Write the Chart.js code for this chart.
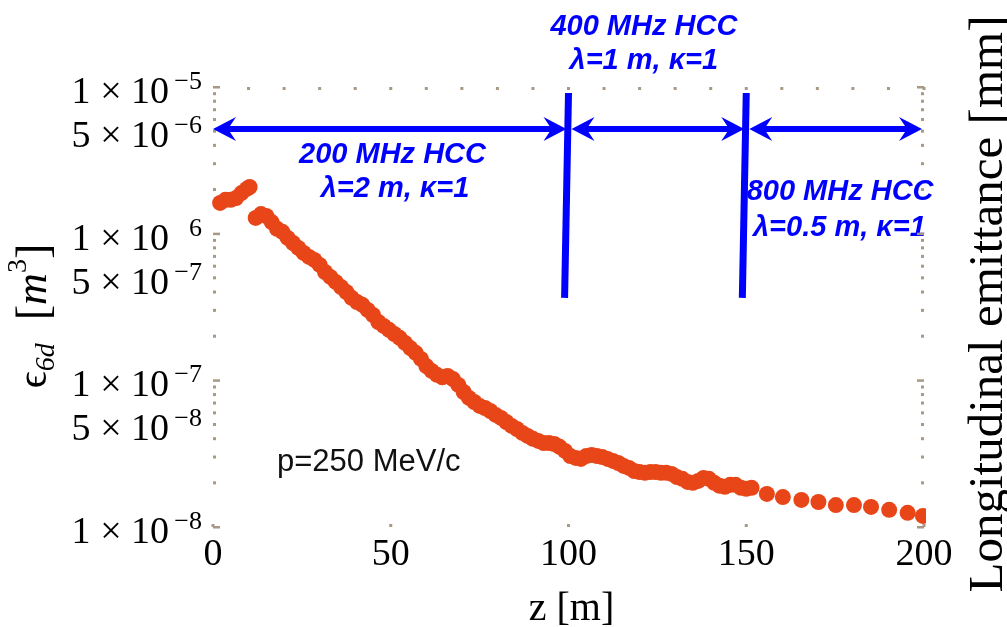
<!DOCTYPE html>
<html><head><meta charset="utf-8">
<script src="https://cdn.jsdelivr.net/npm/chart.js@4.4.0/dist/chart.umd.min.js"></script>
<style>html,body{margin:0;padding:0;background:#fff;overflow:hidden}#wrap{position:relative;width:1007px;height:627px}</style>
</head><body><div id="wrap"><canvas id="c" width="1007" height="627"></canvas></div>
<script>
// ---- data ----
const zPos = [2,3.5,5,6.5,8,9.5,10.3,
 12,13.5,15,16.5,18,19.5,21,22.5,24,25.5,27,28.5,30,31.5,33,34.5,36,37.5,39,40.5,42,43.5,45,46.5,48,49.5,
 51,52.5,54,55.5,57,58.5,60,61.5,63,64.5,66,67.5,69,70.5,72,73.5,75,76.5,78,79.5,81,82.5,84,85.5,87,88.5,90,91.5,93,94.5,96,97.5,99,
 100.5,102,103.5,105,106.5,108,109.5,111,112.5,114,115.5,117,118.5,120,121.5,123,124.5,126,127.5,129,130.5,132,133.5,135,136.5,138,139.5,141,142.5,144,145.5,147,148.5,150,151.5,
 155.8,160.3,165.5,170.3,175.2,180.3,185.1,190.2,195.4,199.7];
const eps6d = [1.62e-6,1.70e-6,1.70e-6,1.75e-6,1.89e-6,2.02e-6,2.08e-6,
 1.28e-6,1.36e-6,1.32e-6,1.20e-6,1.08e-6,1.03e-6,9.35e-7,8.64e-7,7.99e-7,7.39e-7,6.94e-7,6.62e-7,6.12e-7,5.48e-7,5.07e-7,4.69e-7,4.33e-7,4.00e-7,3.65e-7,3.42e-7,3.27e-7,3.02e-7,2.79e-7,2.50e-7,2.35e-7,2.21e-7,
 2.07e-7,1.95e-7,1.80e-7,1.66e-7,1.54e-7,1.40e-7,1.25e-7,1.16e-7,1.09e-7,1.05e-7,1.07e-7,1.02e-7,9.30e-8,8.33e-8,7.59e-8,7.12e-8,6.69e-8,6.48e-8,6.18e-8,5.81e-8,5.54e-8,5.20e-8,4.89e-8,4.66e-8,4.38e-8,4.18e-8,3.99e-8,3.86e-8,3.74e-8,3.74e-8,3.68e-8,3.52e-8,3.30e-8,
 3.05e-8,2.96e-8,2.91e-8,3.05e-8,3.10e-8,3.05e-8,3.00e-8,2.91e-8,2.82e-8,2.73e-8,2.61e-8,2.53e-8,2.41e-8,2.37e-8,2.34e-8,2.37e-8,2.37e-8,2.34e-8,2.34e-8,2.30e-8,2.19e-8,2.13e-8,2.03e-8,2.00e-8,2.06e-8,2.16e-8,2.13e-8,2.00e-8,1.91e-8,1.88e-8,1.94e-8,1.94e-8,1.85e-8,1.82e-8,1.85e-8,
 1.68e-8,1.60e-8,1.53e-8,1.48e-8,1.41e-8,1.41e-8,1.37e-8,1.31e-8,1.25e-8,1.19e-8];
const xTicks = [0,50,100,150,200];
const xTickLabels = ['0','50','100','150','200'];
const yTicks = [1e-5,5e-6,1e-6,5e-7,1e-7,5e-8,1e-8];
const yTickMant = ['1','5','1','5','1','5','1'];
const yTickExp = ['\u22125','\u22126','6','\u22127','\u22127','\u22128','\u22128'];
// section annotations (data coordinates)
const sectionBounds = [0,100,150,200];
const arrowLevel = 5.17e-6;
const dividerZ = [100,150];
const dividerTop = 9.1e-6, dividerBottom = 3.65e-7, dividerLean = 1.1;
const sectionTitles = [['200 MHz HCC','\u03bb=2 m, \u03ba=1'],['400 MHz HCC','\u03bb=1 m, \u03ba=1'],['800 MHz HCC','\u03bb=0.5 m, \u03ba=1']];
const sectionTitleZ = [[50.5,51.2],[121.2,121.2],[176.4,176.2]];
const sectionTitleY = [[3.03e-6,1.78e-6],[2.26e-5,1.33e-5],[1.70e-6,9.65e-7]];
const momentumNote = 'p=250 MeV/c', noteZ = 18, noteY = 2.41e-8;

const BLUE = '#0000ff', TICK = 'rgb(168,152,132)';
const SERIF = '"Liberation Serif","DejaVu Serif",serif';
const SANS = '"Liberation Sans",Arial,sans-serif';

const deco = {
  id:'deco',
  beforeDatasetsDraw(chart){
    const {ctx, scales:{x:xs,y:ys}} = chart;
    ctx.save();
    ctx.fillStyle = BLUE; ctx.font = 'italic bold 29px ' + SANS; ctx.textAlign='center'; ctx.textBaseline='alphabetic';
    sectionTitles.forEach((t,i)=>{
      ctx.fillText(t[0], xs.getPixelForValue(sectionTitleZ[i][0]), ys.getPixelForValue(sectionTitleY[i][0]));
      ctx.fillText(t[1], xs.getPixelForValue(sectionTitleZ[i][1]), ys.getPixelForValue(sectionTitleY[i][1]));
    });
    ctx.fillStyle='#111'; ctx.font='31px '+SANS; ctx.textAlign='left';
    ctx.fillText(momentumNote, xs.getPixelForValue(noteZ), ys.getPixelForValue(noteY));
    ctx.restore();
  },
  afterDatasetsDraw(chart){
    const {ctx, chartArea:ca, scales:{x:xs,y:ys}} = chart;
    ctx.save();
    // ticks
    ctx.fillStyle = TICK;
    for (let k=-8;k<=-5;k++){
      for (let m=1;m<10;m++){
        if (k===-5 && m>1) break;
        const py = ys.getPixelForValue(m*Math.pow(10,k));
        if (m===1){ ctx.fillRect(ca.left, py-1, 7, 2.5); ctx.fillRect(ca.right-7, py-1, 7, 2.5); }
        else { ctx.fillRect(ca.left, py-1.5, 3, 3); ctx.fillRect(ca.right-3, py-1.5, 3, 3); }
      }
    }
    for (let z=10; z<=200; z+=10){
      const px = xs.getPixelForValue(z);
      ctx.fillRect(px-1.5, ca.top, 3, 3);
    }
    xTicks.forEach(z=>{ const px=xs.getPixelForValue(z); ctx.fillRect(px-1.5, ca.bottom-3, 3, 3); });
    // tick labels
    ctx.fillStyle='#000'; ctx.textBaseline='alphabetic';
    ctx.font='38px '+SERIF; ctx.textAlign='center';
    xTicks.forEach((z,i)=>ctx.fillText(xTickLabels[i], xs.getPixelForValue(z), ca.bottom+38));
    const R = ca.left - 11;
    yTicks.forEach((v,i)=>{
      const py = ys.getPixelForValue(v);
      ctx.font='38px '+SERIF; ctx.textAlign='center';
      ctx.fillText(yTickMant[i], R-121, py+16);
      ctx.fillText('\u00d7', R-91, py+16);
      ctx.fillText('10', R-52, py+16);
      ctx.font='26px '+SERIF; ctx.textAlign='right';
      ctx.fillText(yTickExp[i], R, py+2);
    });
    // axis titles
    ctx.textAlign='center';
    ctx.font='40px '+SERIF;
    ctx.fillText('z [m]', (ca.left+ca.right)/2 + 3, 620);
    ctx.save(); ctx.translate(1002, 304); ctx.rotate(-Math.PI/2);
    ctx.font='49px '+SERIF; ctx.textAlign='center'; ctx.fillText('Longitudinal emittance [mm]', 0, 0);
    ctx.restore();
    ctx.save(); ctx.translate(46, 316); ctx.rotate(-Math.PI/2);
    const parts = [
      {t:'\u03f5', f:'42px '+SERIF, dy:0},
      {t:'6d', f:'italic 28px '+SERIF, dy:8},
      {t:'  [', f:'46px '+SERIF, dy:2},
      {t:'m', f:'italic 44px '+SERIF, dy:0},
      {t:'3', f:'28px '+SERIF, dy:-20},
      {t:']', f:'46px '+SERIF, dy:2}];
    let tot=0; parts.forEach(p=>{ctx.font=p.f; p.w=ctx.measureText(p.t).width; tot+=p.w;});
    let cx=-tot/2; ctx.textAlign='left';
    parts.forEach(p=>{ctx.font=p.f; ctx.fillText(p.t, cx, p.dy); cx+=p.w;});
    ctx.restore();
    // divider lines
    ctx.strokeStyle=BLUE; ctx.fillStyle=BLUE; ctx.lineWidth=7; ctx.lineCap='butt';
    dividerZ.forEach(z=>{
      ctx.beginPath();
      ctx.moveTo(xs.getPixelForValue(z), ys.getPixelForValue(dividerTop));
      ctx.lineTo(xs.getPixelForValue(z-dividerLean), ys.getPixelForValue(dividerBottom));
      ctx.stroke();
    });
    // double arrows
    const ay = ys.getPixelForValue(arrowLevel);
    const head=(tx,dir)=>{
      const L=23,W=12,N=15;
      ctx.beginPath();
      ctx.moveTo(tx,ay);
      ctx.lineTo(tx-dir*L, ay-W);
      ctx.lineTo(tx-dir*N, ay);
      ctx.lineTo(tx-dir*L, ay+W);
      ctx.closePath(); ctx.fill();
    };
    for (let i=0;i<sectionBounds.length-1;i++){
      const x0 = xs.getPixelForValue(sectionBounds[i]) + (i===0?0:3);
      const x1 = xs.getPixelForValue(sectionBounds[i+1]) - 2;
      ctx.lineWidth=6;
      ctx.beginPath(); ctx.moveTo(x0+14, ay); ctx.lineTo(x1-14, ay); ctx.stroke();
      head(x0,-1); head(x1,1);
    }
    ctx.restore();
  }
};

new Chart(document.getElementById('c'), {
  type:'scatter',
  data:{datasets:[{
    data: zPos.map((z,i)=>({x:z, y:eps6d[i]})),
    pointRadius:8, pointHoverRadius:8, pointBorderWidth:0,
    pointBackgroundColor:'#e84618', borderColor:'#e84618',
    clip:{left:10, top:10, right:2, bottom:10}
  }]},
  options:{
    responsive:false, animation:false, events:[],
    layout:{padding:{left:213, right:83, top:87, bottom:100}},
    plugins:{legend:{display:false}, tooltip:{enabled:false}},
    scales:{
      x:{type:'linear', min:0, max:200, display:false},
      y:{type:'logarithmic', min:1e-8, max:1e-5, display:false}
    }
  },
  plugins:[deco]
});
</script></body></html>
